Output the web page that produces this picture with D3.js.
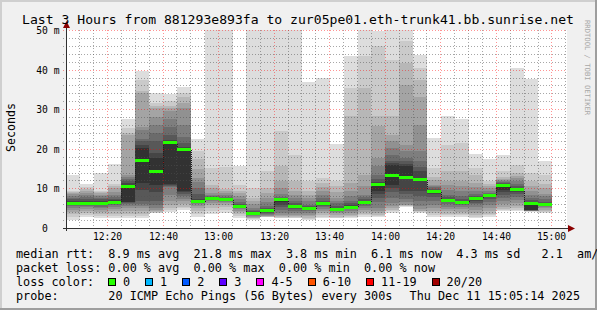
<!DOCTYPE html>
<html><head><meta charset="utf-8">
<script src="https://cdn.jsdelivr.net/npm/d3@7"></script>
<style>html,body{margin:0;padding:0;background:#f0f0f0;overflow:hidden}text{white-space:pre}</style>
</head><body><svg id="c" width="597" height="310" xmlns="http://www.w3.org/2000/svg"></svg>
<script>
// ---- data ----
const titleText = "Last 3 Hours from 881293e893fa to zur05pe01.eth-trunk41.bb.sunrise.net";
const times = ["12:05","12:10","12:15","12:20","12:25","12:30","12:35","12:40","12:45","12:50","12:55",
  "13:00","13:05","13:10","13:15","13:20","13:25","13:30","13:35","13:40","13:45","13:50","13:55",
  "14:00","14:05","14:10","14:15","14:20","14:25","14:30","14:35","14:40","14:45","14:50","14:55"];
const medians = [6.4,6.4,6.4,6.65,10.7,17.2,14.4,21.8,20.0,6.9,7.6,7.2,5.6,3.8,4.6,7.3,5.6,5.1,6.4,4.9,5.4,6.65,
  11.2,13.5,13.0,12.5,9.4,7.1,6.6,7.6,8.4,10.9,9.85,6.4,6.1];
const lossCounts = [0,0,0,0,0,0,0,0,0,0,0,0,0,0,0,0,0,0,0,0,0,0,0,0,0,0,0,0,0,0,0,0,0,0,0];
const pings = [
 [2.1,2.9,3.5,4.0,4.6,5.0,5.5,5.8,6.1,6.3,6.5,6.8,7.2,7.6,8.0,8.5,8.8,9.0,9.3,13.5],
 [2.7,3.2,3.8,4.3,4.8,5.2,5.6,5.9,6.1,6.3,6.5,6.9,7.4,7.9,8.4,8.9,9.4,9.9,10.3,11.1],
 [2.5,3.0,3.5,4.0,4.5,5.0,5.4,5.8,6.1,6.3,6.5,6.8,7.2,7.6,8.0,8.4,8.8,9.0,9.3,13.8],
 [2.4,3.0,3.6,4.2,4.8,5.3,5.8,6.1,6.4,6.6,6.7,7.0,7.3,7.8,8.4,9.2,10.0,10.5,11.0,16.2],
 [2.5,3.0,3.6,4.3,5.0,5.6,6.0,6.3,6.5,6.6,10.9,11.3,11.8,12.3,12.8,13.4,23.5,24.0,25.3,27.4],
 [2.5,3.0,3.5,4.2,5.0,5.5,6.0,6.7,9.5,11.4,20.2,21.0,21.9,22.5,24.8,25.5,34.0,34.5,37.5,39.6],
 [3.8,3.9,4.0,4.2,4.5,5.0,5.8,6.7,9.0,10.9,17.7,19.0,21.9,24.0,26.1,28.0,30.3,30.8,31.6,34.1],
 [4.1,4.5,5.0,5.8,6.8,8.3,10.3,10.6,10.8,11.0,21.7,22.2,23.5,25.6,27.5,29.6,30.2,30.8,32.0,33.8],
 [4.6,5.0,5.4,6.0,6.7,7.4,8.0,8.6,9.0,9.3,20.0,20.5,21.5,23.0,26.0,30.3,31.5,33.0,34.1,35.7],
 [2.9,3.5,4.2,5.0,5.6,6.0,6.3,6.5,6.7,6.8,6.9,7.2,8.5,10.0,11.5,12.6,15.0,17.3,19.4,22.6],
 [3.5,4.2,5.0,5.8,6.4,6.8,7.0,7.2,7.4,7.5,7.6,7.7,7.8,8.0,8.3,8.8,10.0,10.9,15.2,60.0],
 [3.7,4.5,5.2,5.8,6.2,6.5,6.8,7.0,7.1,7.2,7.2,7.4,7.6,7.9,8.3,8.8,9.3,9.8,15.5,60.0],
 [2.5,3.0,3.5,4.0,4.4,4.8,5.1,5.3,5.5,5.6,5.6,5.8,6.0,6.5,7.2,8.0,8.8,9.3,10.9,15.6],
 [2.1,2.2,2.4,2.6,2.8,3.0,3.2,3.4,3.6,3.8,3.9,4.0,4.2,4.6,5.1,6.0,6.8,7.6,10.1,60.0],
 [2.7,2.75,2.85,2.95,3.1,3.3,3.5,3.8,4.1,4.4,4.6,4.8,5.0,5.5,6.5,7.6,8.8,10.1,14.3,60.0],
 [2.4,2.5,2.7,3.0,3.4,3.8,4.5,5.2,5.9,6.5,7.3,7.4,7.6,7.9,8.6,10.1,11.8,15.6,24.4,60.0],
 [2.4,2.5,2.7,3.0,3.4,3.9,4.4,4.8,5.2,5.5,5.6,5.8,6.2,6.7,7.5,8.4,9.3,11.8,18.5,60.0],
 [2.1,2.3,2.6,3.0,3.4,3.8,4.2,4.6,4.8,5.0,5.1,5.3,5.6,5.9,6.7,7.6,8.4,9.3,11.8,36.9],
 [2.5,2.8,3.2,3.8,4.3,4.8,5.2,5.5,5.9,6.2,6.4,6.6,6.7,7.5,8.4,9.3,10.3,11.4,12.6,38.0],
 [2.4,2.6,2.9,3.3,3.7,4.1,4.4,4.6,4.7,4.8,4.9,5.1,5.5,6.2,6.9,7.6,9.0,10.5,11.8,21.2],
 [2.5,2.7,3.0,3.4,3.8,4.3,4.7,5.0,5.2,5.3,5.4,5.8,6.2,6.7,8.0,9.3,11.4,28.2,35.4,43.4],
 [2.9,3.2,3.6,4.1,4.6,5.1,5.6,6.0,6.3,6.5,6.65,6.8,7.2,7.8,8.4,10.5,13.5,35.4,43.4,60.0],
 [2.7,3.0,3.4,3.8,4.4,5.0,6.5,7.6,8.5,9.3,11.4,11.6,12.5,13.5,15.6,17.7,25.7,28.2,45.9,49.7],
 [3.8,4.2,4.6,5.0,5.5,6.3,7.5,9.0,10.1,10.9,16.0,16.5,17.0,18.5,20.2,21.9,23.6,28.2,42.5,51.0],
 [5.4,5.5,5.6,5.7,5.9,6.5,7.2,8.5,9.3,13.0,15.6,16.2,16.8,17.7,19.5,21.0,36.2,41.7,47.1,51.0],
 [3.8,4.0,4.2,4.4,4.8,5.5,6.7,8.0,9.3,12.4,12.6,14.3,15.5,17.0,19.4,26.0,33.2,37.5,40.4,43.8],
 [2.9,3.3,3.8,4.2,5.0,5.8,6.7,7.8,8.6,9.0,9.4,9.6,9.9,10.3,10.6,10.9,12.0,13.0,15.2,22.7],
 [2.9,3.2,3.6,4.2,4.8,5.4,6.0,6.5,6.8,7.0,7.1,7.4,7.8,8.4,9.5,10.8,11.8,14.3,21.0,28.3],
 [2.9,3.2,3.6,4.1,4.7,5.3,5.8,6.1,6.4,6.5,6.65,6.9,7.2,8.2,9.3,10.5,11.8,14.3,21.5,27.6],
 [2.5,2.8,3.2,3.8,4.6,5.4,6.0,6.3,6.8,7.2,7.6,7.8,8.2,8.7,9.3,10.3,11.4,13.5,15.2,18.7],
 [2.9,3.2,3.6,4.2,5.0,5.8,6.5,7.2,7.8,8.2,8.4,8.5,8.6,8.9,9.3,10.1,10.6,11.0,11.8,17.3],
 [4.2,4.5,4.9,5.4,6.0,6.7,7.5,8.3,9.0,9.6,11.0,11.2,11.4,11.6,11.8,12.0,12.4,13.0,14.3,18.5],
 [4.4,4.6,5.0,5.5,6.2,7.0,7.8,8.6,9.2,9.6,9.85,10.1,10.5,11.0,11.8,12.6,13.2,13.9,16.0,40.4],
 [4.1,4.2,4.2,4.25,4.3,4.35,4.4,4.45,4.5,4.6,6.4,6.6,7.0,7.6,8.4,9.3,10.5,11.8,13.9,37.7],
 [3.8,4.0,4.3,4.6,5.0,5.3,5.6,5.8,5.9,6.0,6.1,6.3,6.5,7.2,8.0,8.6,10.0,11.0,13.5,16.8]
];
const yTicks = [0,10,20,30,40,50];
const yTickLabels = ["0","10 m","20 m","30 m","40 m","50 m"];
const xTickLabels = ["12:20","12:40","13:00","13:20","13:40","14:00","14:20","14:40","15:00"];
const lossLabels = ["0","1","2","3","4-5","6-10","11-19","20/20"];
const lossColors = ["#26ff00","#00b8ff","#0059ff","#5e00ff","#ff00ff","#ff5500","#ff0000","#a10000"];
const legendRtt = "median rtt:  8.9 ms avg  21.8 ms max  3.8 ms min  6.1 ms now  4.3 ms sd   2.1  am/s";
const legendLoss = "packet loss: 0.00 % avg  0.00 % max  0.00 % min  0.00 % now";
const legendProbe = "probe:       20 ICMP Echo Pings (56 Bytes) every 300s";
const dateText = "Thu Dec 11 15:05:14 2025";

// ---- drawing ----
const svg = d3.select("#c");
const F = "'DejaVu Sans Mono', monospace";
const day = (h,m,s) => new Date(2025,11,11,h,m,s||0);
const parse = s => { const p = s.split(":").map(Number); return day(p[0],p[1]); };
const t0 = day(12,5,14), t1 = day(15,5,14);
const x = d3.scaleTime().domain([t0,t1]).range([66.5,566.5]);
const y = d3.scaleLinear().domain([0,50]).range([228,30]);
const L = 67, R = 567, T = 30, B = 228;

svg.append("rect").attr("width",597).attr("height",310).attr("fill","#f0f0f0");
svg.append("path").attr("d","M0,0H597V2H2V310H0Z").attr("fill","#cfcfcf");
svg.append("path").attr("d","M597,0V310H0V308H595V0Z").attr("fill","#9e9e9e");

svg.append("rect").attr("x",L).attr("y",T).attr("width",R-L).attr("height",B-T).attr("fill","#ffffff");
svg.append("clipPath").attr("id","clip").append("rect").attr("x",L).attr("y",T).attr("width",R-L).attr("height",B-T);

const g = svg.append("g").attr("clip-path","url(#clip)").attr("shape-rendering","crispEdges");
const bars = times.map((t,i)=>{
  const s = parse(t), e = new Date(+s + 300000);
  return {x0: Math.max(L, Math.round(x(s))), x1: Math.round(x(e)), p: pings[i], m: medians[i], loss: lossCounts[i]};
});
bars.forEach(b=>{
  for (let k=1;k<=10;k++){
    const c = Math.floor(190/10*(10-k))+50;
    const lo = b.p[k-1], hi = b.p[20-k];
    const yt = Math.round(y(Math.min(hi,52))), yb = Math.round(y(lo));
    g.append("rect").attr("x",b.x0).attr("width",b.x1-b.x0).attr("y",yt).attr("height",Math.max(0,yb-yt))
      .attr("fill",d3.rgb(c,c,c).formatHex());
  }
});

// grid
const grid = svg.append("g").attr("shape-rendering","crispEdges");
const minorCol = "rgba(80,80,80,0.5)", majorCol = "rgba(255,0,0,0.42)";
const minorY = d3.range(2,50,2).filter(v=>v%10!==0);
grid.selectAll(".hm").data(minorY).enter().append("line")
  .attr("x1",63).attr("x2",R).attr("y1",d=>Math.round(y(d))+0.5).attr("y2",d=>Math.round(y(d))+0.5)
  .attr("stroke",minorCol).attr("stroke-dasharray","1,2");
const minorT = d3.timeMinute.every(5).range(day(12,10), day(15,6)).filter(d=>d.getMinutes()%20!==0);
grid.selectAll(".vm").data(minorT).enter().append("line")
  .attr("y1",T).attr("y2",B+2).attr("x1",d=>Math.floor(x(d))+0.5).attr("x2",d=>Math.floor(x(d))+0.5)
  .attr("stroke",minorCol).attr("stroke-dasharray","1,2");
grid.selectAll(".hM").data(yTicks.slice(1)).enter().append("line")
  .attr("x1",63).attr("x2",R).attr("y1",d=>Math.round(y(d))+0.5).attr("y2",d=>Math.round(y(d))+0.5)
  .attr("stroke",majorCol).attr("stroke-dasharray","1,2");
const majorT = xTickLabels.map(parse);
grid.selectAll(".vM").data(majorT).enter().append("line")
  .attr("y1",T).attr("y2",B+3).attr("x1",d=>Math.floor(x(d))+0.5).attr("x2",d=>Math.floor(x(d))+0.5)
  .attr("stroke",majorCol).attr("stroke-dasharray","1,2");

// median: dotted connector + colored bars
const mg = svg.append("g").attr("clip-path","url(#clip)").attr("shape-rendering","crispEdges");
const pts = [];
bars.forEach(b=>{ const yy = Math.round(y(b.m))+0.5; pts.push([b.x0,yy],[b.x1,yy]); });
mg.append("path").attr("d",d3.line()(pts)).attr("fill","none").attr("stroke","#202020")
  .attr("stroke-width",1).attr("stroke-dasharray","1,1");
const lossIdx = n => n===0?0:n===1?1:n===2?2:n===3?3:n<=5?4:n<=10?5:n<=19?6:7;
bars.forEach(b=>{
  const yy = Math.round(y(b.m));
  mg.append("rect").attr("x",b.x0).attr("width",b.x1-b.x0).attr("y",yy-1).attr("height",3)
    .attr("fill",lossColors[lossIdx(b.loss)]);
});

// axes
const ax = svg.append("g").attr("shape-rendering","crispEdges");
ax.append("line").attr("x1",63).attr("x2",570).attr("y1",228.5).attr("y2",228.5).attr("stroke","#303030");
ax.append("line").attr("x1",66.5).attr("x2",66.5).attr("y1",231).attr("y2",27).attr("stroke","#303030");
svg.append("path").attr("d","M66.5,21L63,28H70Z").attr("fill","#8b0000");
svg.append("path").attr("d","M575,228.5L568,225V232Z").attr("fill","#8b0000");

// tick labels
svg.selectAll(".yl").data(yTicks).enter().append("text")
  .attr("x",(d,i)=> i===0 ? 47.8 : 59.5).attr("y",d=>Math.round(y(d))+4)
  .attr("text-anchor","end").attr("font-family",F).attr("font-size","9.7px").attr("fill","#000")
  .text((d,i)=>yTickLabels[i]);
svg.selectAll(".xl").data(majorT).enter().append("text")
  .attr("x",d=>Math.floor(x(d))+0.5).attr("y",240).attr("text-anchor","middle")
  .attr("font-family",F).attr("font-size","9.7px").attr("fill","#000")
  .text((d,i)=>xTickLabels[i]);

// title, axis title, watermark
svg.append("text").attr("x",298).attr("y",24).attr("text-anchor","middle").attr("font-family",F)
  .attr("font-size","13.1px").attr("fill","#000").text(titleText);
svg.append("text").attr("transform","translate(14.5,127.5) rotate(-90)").attr("text-anchor","middle")
  .attr("font-family",F).attr("font-size","11.6px").attr("fill","#000").text("Seconds");
svg.append("text").attr("transform","translate(584.5,20) rotate(90)").attr("font-family",F)
  .attr("font-size","7.2px").attr("fill","#a8a8a8").text("RRDTOOL / TOBI OETIKER");

// legend
const lf = "11.8px", cw = 7.1;
const leg = (t,yy,xx)=> svg.append("text").attr("x",xx||16).attr("y",yy).attr("font-family",F)
  .attr("font-size",lf).attr("fill","#000").attr("xml:space","preserve").text(t);
leg(legendRtt,258);
leg(legendLoss,272);
leg("loss color:",286);
leg(legendProbe,300);
svg.append("text").attr("x",580).attr("y",300).attr("text-anchor","end").attr("font-family",F)
  .attr("font-size",lf).attr("fill","#000").text(dateText);
let lx = 108;
lossLabels.forEach((lab,i)=>{
  svg.append("rect").attr("x",lx+0.5).attr("y",278.5).attr("width",7).attr("height",7)
    .attr("fill",lossColors[i]).attr("stroke","#000").attr("stroke-width",1).attr("shape-rendering","crispEdges");
  leg(lab,286,lx+15);
  lx += 30 + lab.length*cw;
});
</script></body></html>
